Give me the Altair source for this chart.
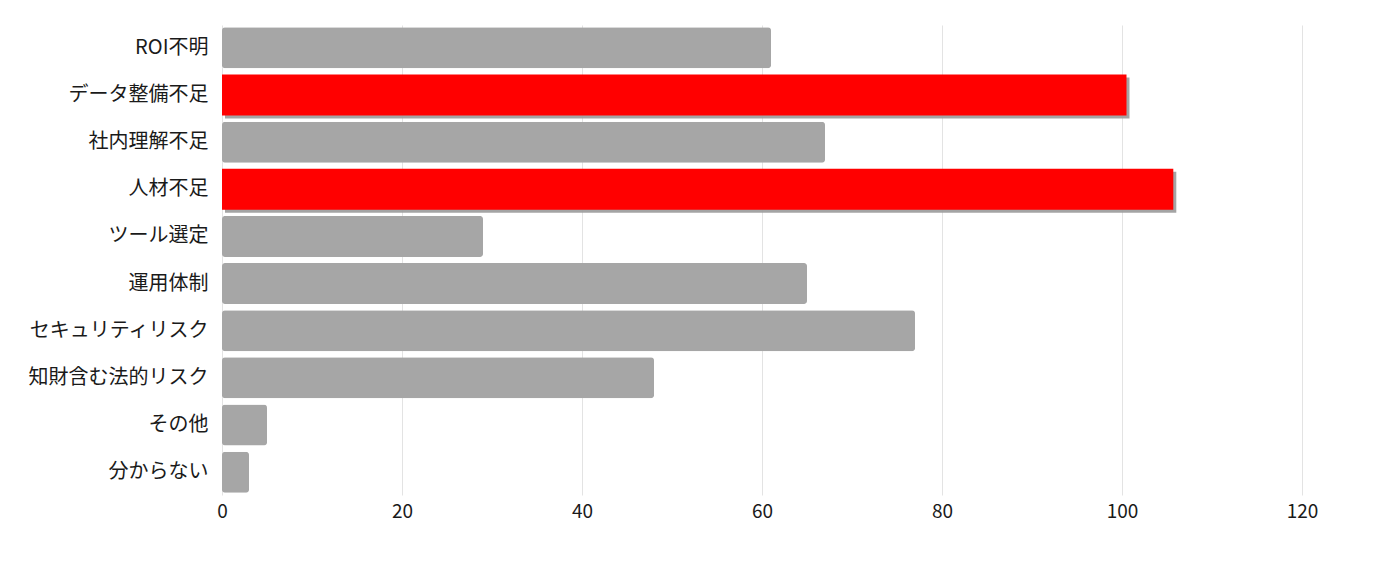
import altair as alt
import pandas as pd

categories = ["ROI不明", "データ整備不足", "社内理解不足", "人材不足", "ツール選定",
              "運用体制", "セキュリティリスク", "知財含む法的リスク", "その他", "分からない"]
values = [61, 100.5, 67, 105.7, 29, 65, 77, 48, 5, 3]
highlight = [False, True, False, True, False, False, False, False, False, False]

df = pd.DataFrame({"cat": categories, "val": values, "hl": highlight})

FONT = "Noto Sans CJK JP"

y = alt.Y("cat:N", sort=categories, title=None,
          scale=alt.Scale(paddingInner=0.13, paddingOuter=0.05),
          axis=alt.Axis(ticks=False, domain=False, labelPadding=14, labelFontSize=20,
                        labelColor="#1a1a1a", labelFont=FONT, grid=False))
x = alt.X("val:Q", title=None, scale=alt.Scale(domain=[0, 120]),
          axis=alt.Axis(values=[0, 20, 40, 60, 80, 100, 120], ticks=False, domain=False,
                        labelFontSize=19, labelColor="#1a1a1a", labelFont=FONT,
                        labelFlush=False, labelPadding=7,
                        gridColor="#e3e3e3", gridWidth=1))

base = alt.Chart(df)

shadow = base.transform_filter("datum.hl").mark_bar(
    color="#9a9a9a", xOffset=3, yOffset=3, opacity=0.9
).encode(x=x, y=y)

gray = base.transform_filter("!datum.hl").mark_bar(
    color="#a6a6a6", cornerRadius=3
).encode(x=x, y=y)

red = base.transform_filter("datum.hl").mark_bar(
    color="#ff0000"
).encode(x=x, y=y)

chart = alt.layer(shadow, gray, red).properties(
    width=1080, height=470,
    autosize=alt.AutoSizeParams(type="none"),
    padding={"left": 214, "top": 17, "right": 70, "bottom": 40},
).configure(background="white").configure_view(stroke=None)

chart.save("out.html", embed_options={"renderer": "svg", "actions": False})
